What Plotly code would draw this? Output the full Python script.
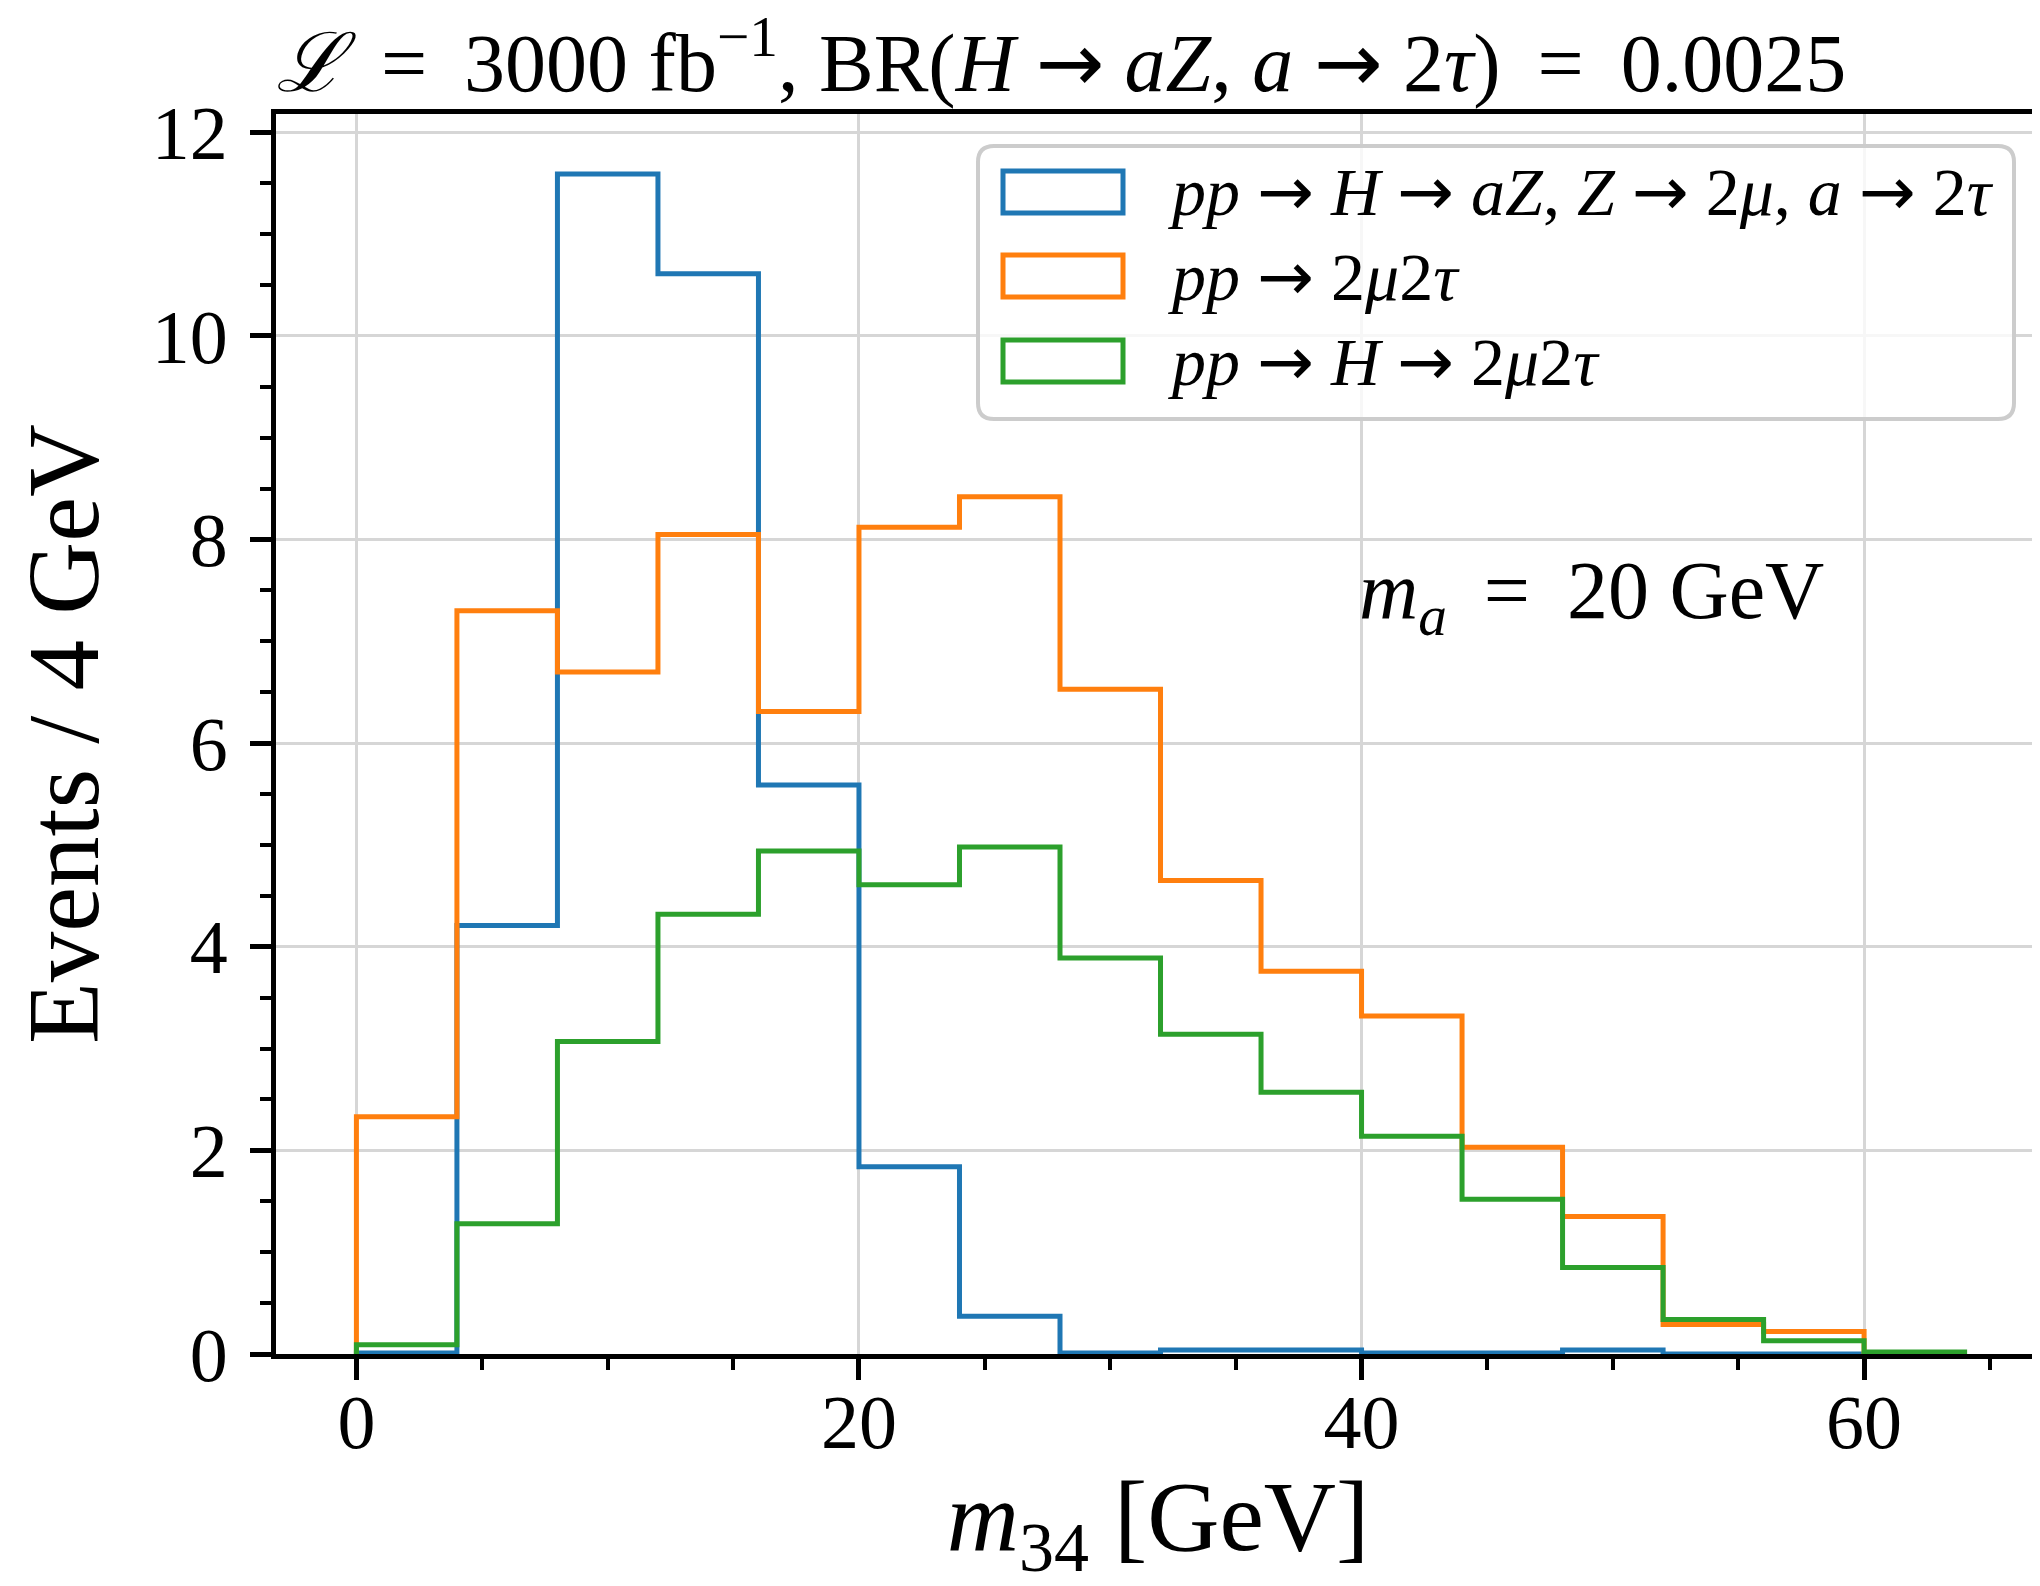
import plotly.graph_objects as go

# ---------------- data ----------------
bin_edges = [0, 4, 8, 12, 16, 20, 24, 28, 32, 36, 40, 44, 48, 52, 56, 60, 64]
signal = [0.01, 4.21, 11.59, 10.61, 5.59, 1.84, 0.37, 0.01, 0.04, 0.04, 0.01, 0.01, 0.04, 0.0, 0.0, 0.0]
bkg_2mu2tau = [2.33, 7.30, 6.70, 8.05, 6.31, 8.12, 8.42, 6.53, 4.65, 3.76, 3.32, 2.03, 1.35, 0.29, 0.22, 0.0]
bkg_h_2mu2tau = [0.09, 1.28, 3.07, 4.32, 4.94, 4.61, 4.98, 3.89, 3.14, 2.57, 2.14, 1.52, 0.85, 0.34, 0.13, 0.02]

ARROW = "<span style=\"font-family:'DejaVu Sans'\">→</span>"
SP = " \u2009"  # slightly wider space, like TeX relation spacing
series_names = [
    f"<i>pp</i> {ARROW} <i>H</i> {ARROW} <i>aZ</i>, <i>Z</i> {ARROW} 2<i>μ</i>, <i>a</i> {ARROW} 2<i>τ</i>",
    f"<i>pp</i> {ARROW} 2<i>μ</i>2<i>τ</i>",
    f"<i>pp</i> {ARROW} <i>H</i> {ARROW} 2<i>μ</i>2<i>τ</i>",
]
series_values = [signal, bkg_2mu2tau, bkg_h_2mu2tau]
series_colors = ["#1f77b4", "#ff7f0e", "#2ca02c"]

x_tick_vals = [0, 20, 40, 60]
y_tick_vals = [0, 2, 4, 6, 8, 10, 12]

title_text = (f"<i>ℒ</i>{SP}={SP}3000 fb<sup>−1</sup>, BR(<i>H</i> {ARROW} <i>aZ</i>, "
              f"<i>a</i> {ARROW} 2<i>τ</i>){SP}={SP}0.0025")
xlabel = "<i>m</i><sub>34</sub> [GeV]"
ylabel = "Events / 4 GeV"
mass_label = f"<i>m<sub>a</sub></i>{SP}={SP}20 GeV"

# ---------------- layout geometry ----------------
OFF = 8                      # page body margin of the html page
W, H = 2040 - OFF, 1586 - OFF
L, R, T, B = 276 - OFF, 2040 - OFF, 114 - OFF, 1354 - OFF   # plot area (figure px)
FONT = "Liberation Serif"

def px(xs):   # screen pixel -> paper x
    return (xs - OFF - L) / (R - L)

def py(ys):   # screen pixel -> paper y
    return (B - (ys - OFF)) / (B - T)

fig = go.Figure()

def step_xy(edges, vals):
    xs = [edges[0]] + list(edges[:-1]) + [edges[-1], edges[-1]]
    ys = [0] + list(vals) + [vals[-1], 0]
    return xs, ys

for name, vals, col in zip(series_names, series_values, series_colors):
    xs, ys = step_xy(bin_edges, vals)
    fig.add_trace(go.Scatter(
        x=xs, y=ys, mode="lines", name=name,
        line=dict(color=col, width=5, shape="hv"),
        showlegend=False, hoverinfo="skip",
    ))

# ---------------- manual legend (matplotlib-style) ----------------
shapes = []
annotations = []
bx0, bx1, by0, by1 = 978, 2014, 146, 419
r = 16
rx, ry = r / (R - L), r / (B - T)
X0, X1, Y0, Y1 = px(bx0), px(bx1), py(by1), py(by0)
path = (f"M{X0+rx},{Y1} L{X1-rx},{Y1} Q{X1},{Y1} {X1},{Y1-ry} "
        f"L{X1},{Y0+ry} Q{X1},{Y0} {X1-rx},{Y0} L{X0+rx},{Y0} "
        f"Q{X0},{Y0} {X0},{Y0+ry} L{X0},{Y1-ry} Q{X0},{Y1} {X0+rx},{Y1} Z")
shapes.append(dict(type="path", path=path, xref="paper", yref="paper",
                   line=dict(color="#cccccc", width=4),
                   fillcolor="rgba(255,255,255,0.8)", layer="above"))
row_y = [192, 276, 361]
for name, col, yc in zip(series_names, series_colors, row_y):
    shapes.append(dict(type="rect", xref="paper", yref="paper",
                       x0=px(1003), x1=px(1123), y0=py(yc + 21), y1=py(yc - 21),
                       line=dict(color=col, width=5), fillcolor="rgba(0,0,0,0)",
                       layer="above"))
    annotations.append(dict(text=name, xref="paper", yref="paper",
                            x=px(1166), y=py(yc), xanchor="left", yanchor="middle",
                            showarrow=False, font=dict(family=FONT, size=68, color="black")))

annotations.append(dict(text=mass_label, xref="x", yref="y", x=39.8, y=7.45,
                        xanchor="left", yanchor="middle", showarrow=False,
                        font=dict(family=FONT, size=82, color="black")))

axis_common = dict(
    showline=True, linecolor="black", linewidth=5,
    ticks="outside", ticklen=21, tickwidth=4.5, tickcolor="black",
    showgrid=True, gridcolor="#d6d6d6", gridwidth=2.5,
    zeroline=False, automargin=False,
    tickfont=dict(family=FONT, size=76, color="black"),
)

fig.update_layout(
    width=W, height=H,
    margin=dict(l=L, r=W - R, t=T, b=H - B, pad=0, autoexpand=False),
    paper_bgcolor="white", plot_bgcolor="white",
    showlegend=False,
    title=dict(text=title_text, x=L / W, xref="container",
               xanchor="left", y=1 - 54 / H, yref="container", yanchor="middle",
               font=dict(family=FONT, size=82, color="black")),
    xaxis=dict(range=[-3.2, 67.0], tickvals=x_tick_vals, mirror=True,
               minor=dict(dtick=5, tick0=0, ticks="outside", ticklen=11, tickwidth=3.5,
                          tickcolor="black", showgrid=False),
               ticklabelstandoff=-23,
               title=dict(text=xlabel, font=dict(family=FONT, size=100, color="black"),
                          standoff=75),
               **axis_common),
    yaxis=dict(range=[0, 12.18], tickvals=y_tick_vals,
               minor=dict(dtick=0.5, tick0=0, ticks="outside", ticklen=11, tickwidth=3.5,
                          tickcolor="black", showgrid=False),
               ticklabelstandoff=7,
               title=dict(text=ylabel, font=dict(family=FONT, size=101, color="black"),
                          standoff=58),
               **axis_common),
    shapes=shapes,
    annotations=annotations,
)

fig.write_html("out.html")
